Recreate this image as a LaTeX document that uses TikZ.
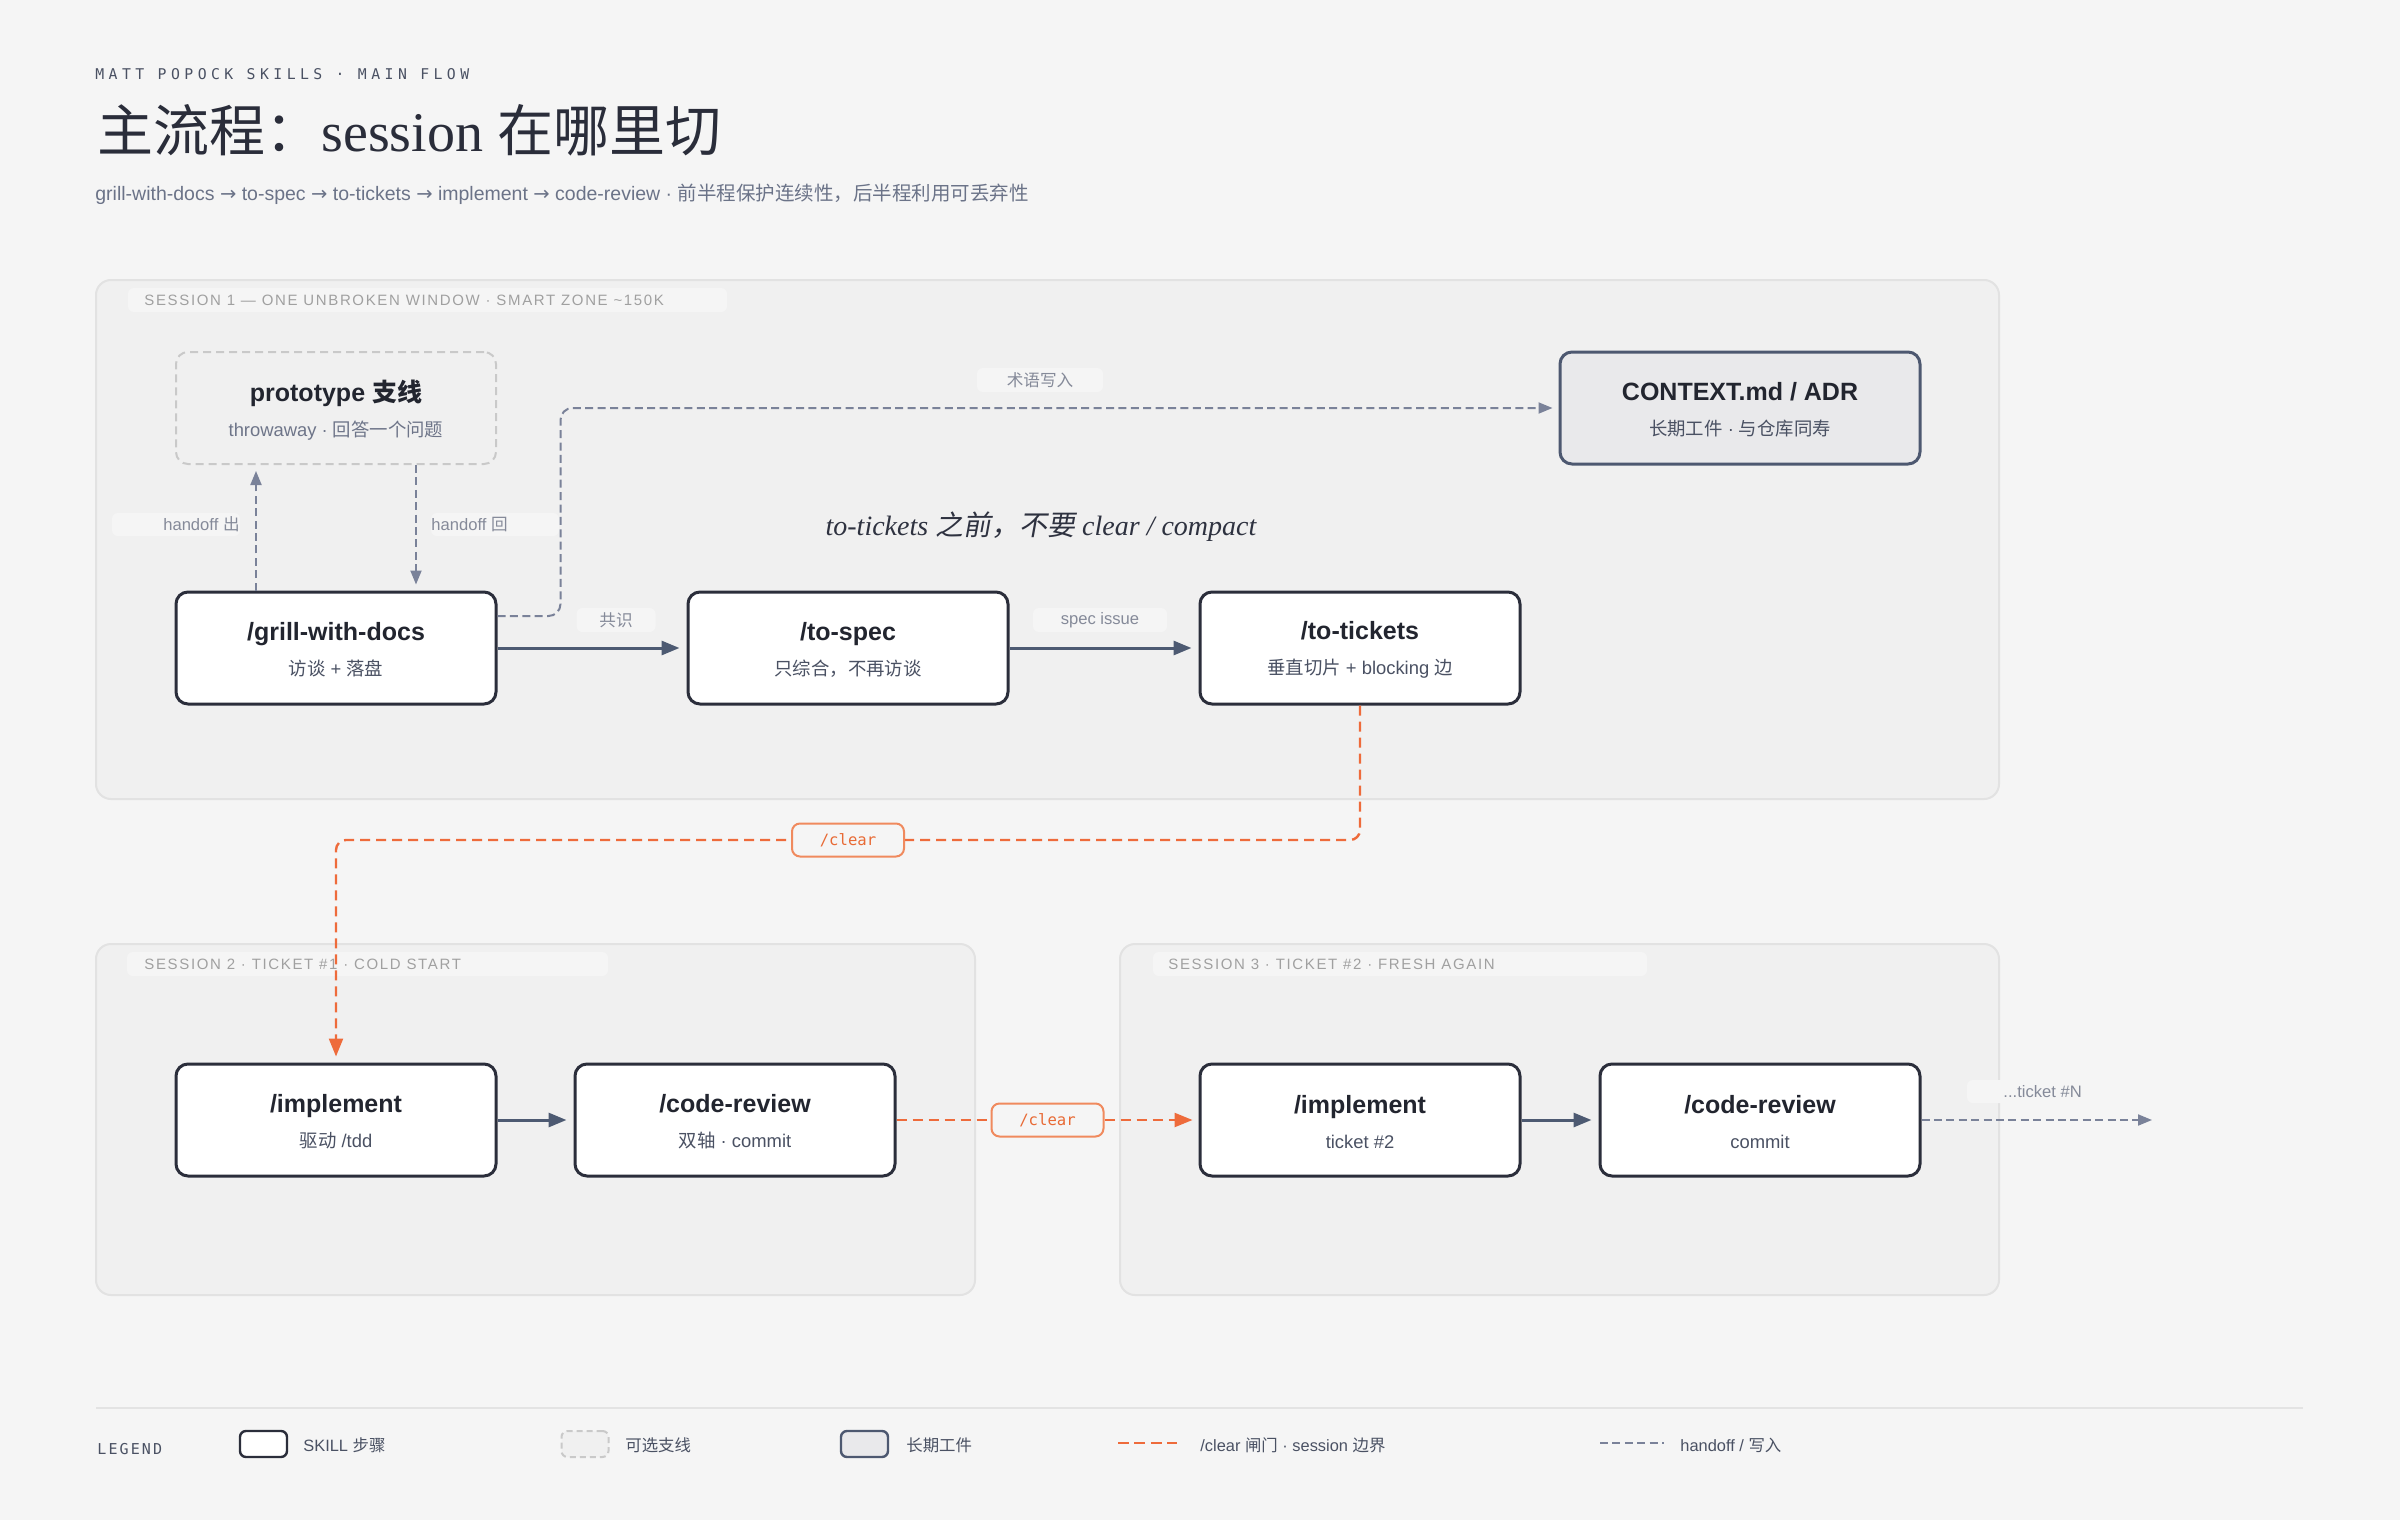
\documentclass[tikz,border=0pt]{standalone}
\usepackage{fontspec}
\usetikzlibrary{arrows.meta,calc}
\setmainfont{Liberation Sans}
\newfontfamily\cjk{Noto Sans CJK SC}
\newfontfamily\cjkslant[FakeSlant=0.18]{Noto Sans CJK SC}
\newfontfamily\serifrm{Liberation Serif}
\newfontfamily\arrowfont{DejaVu Sans}
\newfontfamily\monohead[LetterSpace=30]{DejaVu Sans Mono}
\newfontfamily\monolegend[LetterSpace=14]{DejaVu Sans Mono}
\newfontfamily\monoplain{DejaVu Sans Mono}
\newfontfamily\capsfont[LetterSpace=11]{Liberation Sans}
\newcommand\zh[1]{{\cjk #1}}
\newcommand\zhit[1]{{\cjkslant\upshape #1}}
\newcommand\ar{{\arrowfont →}}
\newcommand\two[2]{\raisebox{-2pt}[\height][\depth]{\bfseries\fontsize{12.5}{15}\selectfont\color{ink}#1}\\#2}
\definecolor{pagebg}{HTML}{F5F5F5}
\definecolor{sessfill}{HTML}{F0F0F0}
\definecolor{sessborder}{HTML}{E2E2E2}
\definecolor{labelbg}{HTML}{F5F5F5}
\definecolor{sesstext}{HTML}{A0A0A0}
\definecolor{nodeborder}{HTML}{2B2E3B}
\definecolor{ink}{HTML}{22252F}
\definecolor{sub}{HTML}{4A5163}
\definecolor{sub2}{HTML}{6E7589}
\definecolor{arrowc}{HTML}{4D5A72}
\definecolor{dashc}{HTML}{7A8299}
\definecolor{orangec}{HTML}{EE6B3B}
\definecolor{tagborder}{HTML}{F08A5E}
\definecolor{orangetext}{HTML}{E86A35}
\definecolor{artfill}{HTML}{E9E9EB}
\definecolor{artborder}{HTML}{4D5870}
\definecolor{branchc}{HTML}{C9C9C9}
\definecolor{lblc}{HTML}{858A99}
\definecolor{headc}{HTML}{4A5163}
\definecolor{titlec}{HTML}{2A2D3A}
\definecolor{subt}{HTML}{6B7388}
\definecolor{itc}{HTML}{2E3240}
\definecolor{sepc}{HTML}{E3E3E3}
\begin{document}
\begin{tikzpicture}[x=0.5pt,y=-0.5pt,
  skill/.style={draw=nodeborder, line width=1.5pt, fill=white, rounded corners=6pt,
    minimum width=160pt, minimum height=56pt, inner sep=0pt, align=center,
    text=sub, font=\fontsize{9.2}{19.6}\selectfont},
  artifact/.style={skill, fill=artfill, draw=artborder, minimum width=180pt},
  branch/.style={skill, fill=none, draw=branchc, line width=1pt, dash pattern=on 4pt off 2.5pt, text=sub2},
  flow/.style={draw=arrowc, line width=1.5pt, -{Triangle[length=9pt,width=7pt]}, shorten >=3.5pt},
  handoff/.style={draw=dashc, line width=1pt, dash pattern=on 4pt off 2.2pt},
  handarrow/.style={handoff, -{Triangle[length=7pt,width=5.5pt]}, shorten >=3pt},
  cleargate/.style={draw=orangec, line width=1.2pt, dash pattern=on 5pt off 3pt, rounded corners=5pt},
  cleararrow/.style={cleargate, -{Triangle[length=9pt,width=7pt]}, shorten >=3pt},
  cleartag/.style={draw=tagborder, fill=pagebg, line width=1pt, rounded corners=4pt,
    minimum width=56pt, minimum height=16.5pt, inner sep=0pt, text=orangetext,
    font=\monoplain\fontsize{7.8}{9}\selectfont},
  edgelbl/.style={fill=labelbg, rounded corners=3pt, text=lblc, inner sep=0pt,
    minimum height=12pt, font=\fontsize{8.3}{10}\selectfont},
  lbltext/.style={text=lblc, inner sep=0pt, font=\fontsize{8.3}{10}\selectfont},
  sesslbl/.style={anchor=west, text=sesstext, inner sep=0pt, font=\capsfont\fontsize{7.5}{9}\selectfont},
  legtext/.style={anchor=west, text=sub, inner sep=0pt, font=\fontsize{8.2}{10}\selectfont},
  legicon/.style={minimum width=23.5pt, minimum height=13pt, inner sep=0pt, rounded corners=3pt}
]
% canvas
\fill[pagebg] (0,0) rectangle (2400,1520);
\useasboundingbox (0,0) rectangle (2400,1520);

% session boxes
\filldraw[fill=sessfill, draw=sessborder, line width=1pt, rounded corners=7.5pt] (96,280) rectangle (1999,799);
\filldraw[fill=sessfill, draw=sessborder, line width=1pt, rounded corners=7.5pt] (96,944) rectangle (975,1295);
\filldraw[fill=sessfill, draw=sessborder, line width=1pt, rounded corners=7.5pt] (1120,944) rectangle (1999,1295);

% session label backgrounds and texts
\fill[labelbg, rounded corners=3pt] (128,288) rectangle (727,312);
\fill[labelbg, rounded corners=3pt] (127,952) rectangle (608,976);
\fill[labelbg, rounded corners=3pt] (1153,952) rectangle (1647,976);
\node[sesslbl] (s1lbl) at (144,300) {SESSION 1 — ONE UNBROKEN WINDOW · SMART ZONE \textasciitilde150K};
\node[sesslbl] (s2lbl) at (144,964) {SESSION 2 · TICKET \#1 · COLD START};
\node[sesslbl] (s3lbl) at (1168,964) {SESSION 3 · TICKET \#2 · FRESH AGAIN};

% label backgrounds for handoff labels
\fill[labelbg, rounded corners=3pt] (112,513) rectangle (240,536);
\fill[labelbg, rounded corners=3pt] (431,513) rectangle (559,536);
\fill[labelbg, rounded corners=3pt] (1967,1080) rectangle (2097,1103);

% nodes
\node[branch] (proto) at (336,408) {\two{prototype \zh{支线}}{throwaway · \zh{回答一个问题}}};
\node[skill] (grill) at (336,648) {\two{/grill-with-docs}{\zh{访谈} + \zh{落盘}}};
\node[skill] (spec) at (848,648) {\two{/to-spec}{\zh{只综合，不再访谈}}};
\node[skill] (tickets) at (1360,648) {\two{/to-tickets}{\zh{垂直切片} + blocking \zh{边}}};
\node[artifact] (context) at (1740,408) {\two{CONTEXT.md / ADR}{\zh{长期工件} · \zh{与仓库同寿}}};
\node[skill] (impl1) at (336,1120) {\two{/implement}{\zh{驱动} /tdd}};
\node[skill] (cr1) at (735,1120) {\two{/code-review}{\zh{双轴} · commit}};
\node[skill] (impl2) at (1360,1120) {\two{/implement}{ticket \#2}};
\node[skill] (cr2) at (1760,1120) {\two{/code-review}{commit}};

% connectors
\draw[flow] (grill) -- (spec);
\draw[flow] (spec) -- (tickets);
\draw[flow] (impl1) -- (cr1);
\draw[flow] (impl2) -- (cr2);
\draw[handarrow] ([xshift=-40pt]grill.north) -- ([xshift=-40pt]proto.south);
\draw[handarrow] ([xshift=40pt]proto.south) -- ([xshift=40pt]grill.north);
\draw[handarrow, rounded corners=6pt] ([yshift=16pt]grill.east) -- ++(63,0) |- (context.west);
\coordinate (more) at (2152,1120);
\draw[handarrow, shorten >=0pt] (cr2) -- (more);
\coordinate (gate1) at (848,840);
\draw[cleararrow] (tickets.south) |- (gate1) -| (impl1.north);
\draw[cleararrow] (cr1) -- (impl2);

% tags and labels
\node[cleartag] (tag1) at (gate1) {/clear};
\path (cr1.east) -- (impl2.west) node[cleartag, midway] (tag2) {/clear};
\node[edgelbl, minimum width=39.5pt] (lblconsensus) at (616,620) {\zh{共识}};
\node[edgelbl, minimum width=67pt] (lblspec) at (1100,620) {spec issue};
\node[edgelbl, minimum width=63pt] (lblterm) at (1040,380) {\zh{术语写入}};
\node[lbltext, anchor=east] (lblout) at (240,524.5) {handoff \zh{出}};
\node[lbltext, anchor=west] (lblback) at (431,524.5) {handoff \zh{回}};
\node[lbltext, anchor=west] (lblmore) at (2003,1091.5) {...ticket \#N};

% italic note
\node[text=itc, inner sep=0pt, font=\fontsize{14}{17}\selectfont] (note) at (1041,527)
  {{\serifrm\itshape to-tickets \zhit{之前，不要} clear / compact}};

% header
\node[anchor=west, inner sep=0pt, text=headc, font=\monohead\fontsize{7.4}{9}\selectfont] (kicker) at (95,74.5) {MATT POPOCK SKILLS · MAIN FLOW};
\node[anchor=base west, inner sep=0pt, text=titlec, font=\fontsize{28}{33}\selectfont] (title) at (97,152)
  {\zh{主流程：}\serifrm session \zh{在哪里切}};
\node[anchor=west, inner sep=0pt, text=subt, font=\fontsize{9.75}{11.5}\selectfont] (subtitle) at (95,194)
  {grill-with-docs \ar{} to-spec \ar{} to-tickets \ar{} implement \ar{} code-review · \zh{前半程保护连续性，后半程利用可丢弃性}};

% legend
\draw[sepc, line width=1pt] (96,1408) -- (2303,1408);
\node[anchor=west, inner sep=0pt, text=headc, font=\monolegend\fontsize{7.5}{9}\selectfont] (legend) at (97,1449) {LEGEND};
\node[legicon, fill=white, draw=nodeborder, line width=1.2pt] (lgskill) at (263.5,1444) {};
\node[legtext] (lgskilltxt) at (303,1445) {SKILL \zh{步骤}};
\node[legicon, fill=sessfill, draw=branchc, line width=1pt, dash pattern=on 3pt off 2pt] (lgbranch) at (585,1444) {};
\node[legtext] (lgbranchtxt) at (625,1445) {\zh{可选支线}};
\node[legicon, fill=artfill, draw=artborder, line width=1.2pt] (lgart) at (864.5,1444) {};
\node[legtext] (lgarttxt) at (906,1445) {\zh{长期工件}};
\coordinate (lo1) at (1118,1443);
\coordinate (lo2) at (1177,1443);
\draw[cleargate, dash pattern=on 5.5pt off 2.7pt] (lo1) -- (lo2);
\node[legtext] (lgcleartxt) at (1200,1445) {/clear \zh{闸门} · session \zh{边界}};
\coordinate (lg1) at (1600,1443);
\coordinate (lg2) at (1664,1443);
\draw[handoff] (lg1) -- (lg2);
\node[legtext] (lghandtxt) at (1680,1445) {handoff / \zh{写入}};
\end{tikzpicture}
\end{document}
